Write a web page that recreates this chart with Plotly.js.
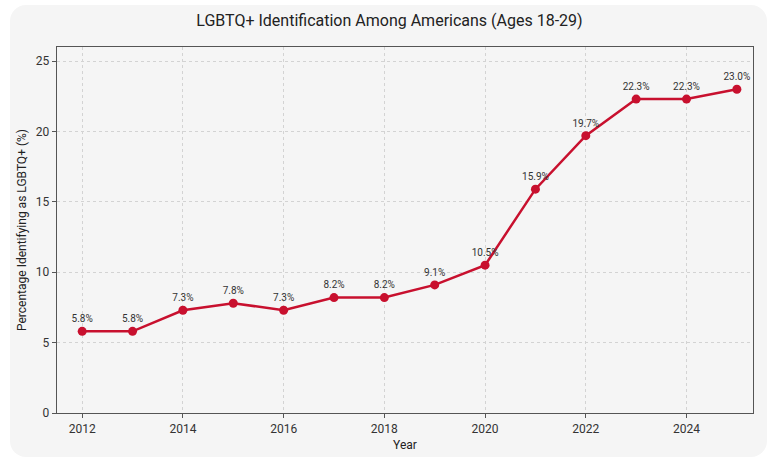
<!DOCTYPE html>
<html>
<head>
<meta charset="utf-8">
<script src="https://cdn.plot.ly/plotly-3.0.1.min.js"></script>
<style>
  html, body { margin: 0; padding: 0; background: #ffffff; }
  #card { position: absolute; left: 10px; top: 5px; width: 757px; height: 452px; background: #f5f5f5; border-radius: 16px; }
  #chart { position: absolute; left: 0; top: 0; width: 779px; height: 463px; }
</style>
</head>
<body>
<div id="card"></div>
<div id="chart"></div>
<script>
const years = [2012, 2013, 2014, 2015, 2016, 2017, 2018, 2019, 2020, 2021, 2022, 2023, 2024, 2025];
const percentages = [5.8, 5.8, 7.3, 7.8, 7.3, 8.2, 8.2, 9.1, 10.5, 15.9, 19.7, 22.3, 22.3, 23.0];
const labels = percentages.map(v => v.toFixed(1) + '%');

const trace = {
  x: years,
  y: percentages,
  type: 'scatter',
  mode: 'lines+markers+text',
  text: labels,
  textposition: 'top center',
  textfont: { family: 'Roboto, Open Sans, sans-serif', size: 10, color: '#333333' },
  line: { color: '#c8102e', width: 2.5 },
  marker: { color: '#c8102e', size: 9 },
  cliponaxis: false,
  hoverinfo: 'x+y'
};

const axisCommon = {
  showline: true,
  mirror: true,
  linecolor: '#555555',
  linewidth: 1.3,
  ticks: 'outside',
  ticklen: 4,
  tickcolor: '#555555',
  showgrid: true,
  gridcolor: '#d3d3d3',
  griddash: '3px,3px',
  gridwidth: 1,
  zeroline: false,
  tickfont: { family: 'Roboto, Open Sans, sans-serif', size: 12, color: '#333333' }
};

const layout = {
  width: 779,
  height: 463,
  paper_bgcolor: 'rgba(0,0,0,0)',
  plot_bgcolor: '#f5f5f5',
  margin: { l: 57, r: 26, t: 47, b: 50 },
  showlegend: false,
  title: {
    text: 'LGBTQ+ Identification Among Americans (Ages 18-29)',
    font: { family: 'Roboto, Open Sans, sans-serif', size: 16, color: '#222222' },
    x: 0.5, xanchor: 'center', y: 0.955, yanchor: 'middle'
  },
  xaxis: Object.assign({}, axisCommon, {
    range: [2011.5, 2025.32],
    tickmode: 'array',
    tickvals: [2012, 2014, 2016, 2018, 2020, 2022, 2024],
    title: { text: 'Year', font: { family: 'Roboto, Open Sans, sans-serif', size: 12, color: '#222222' }, standoff: 6 }
  }),
  yaxis: Object.assign({}, axisCommon, {
    range: [0, 26],
    tickmode: 'array',
    tickvals: [0, 5, 10, 15, 20, 25],
    title: { text: 'Percentage Identifying as LGBTQ+ (%)', font: { family: 'Roboto, Open Sans, sans-serif', size: 12, color: '#222222' }, standoff: 6 }
  })
};

Plotly.newPlot('chart', [trace], layout, { displayModeBar: false, staticPlot: true });
</script>
</body>
</html>
